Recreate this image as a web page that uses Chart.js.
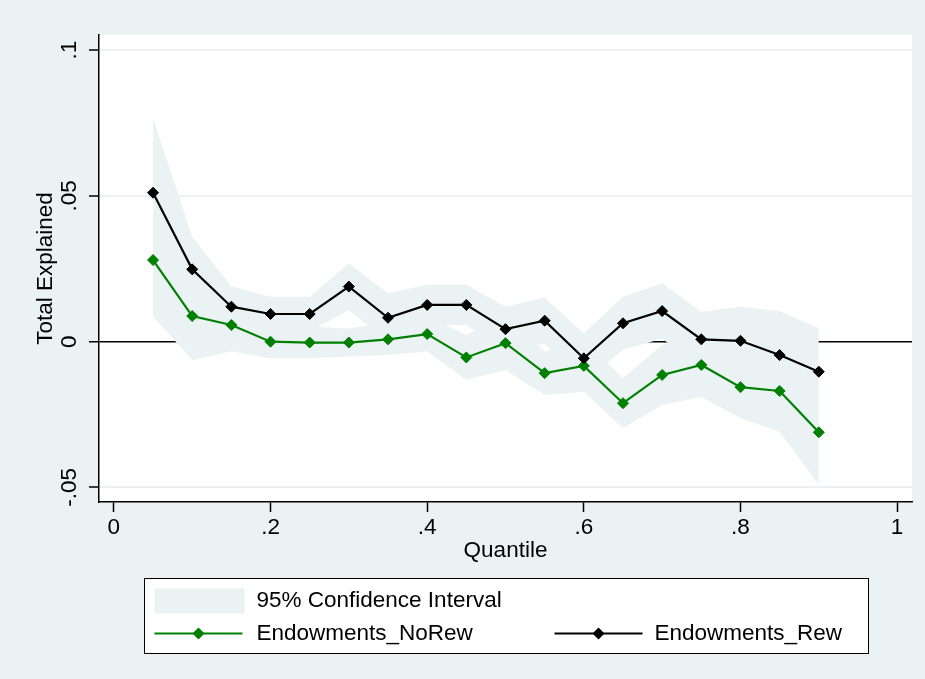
<!DOCTYPE html>
<html>
<head>
<meta charset="utf-8">
<script src="https://cdn.jsdelivr.net/npm/chart.js@4/dist/chart.umd.min.js"></script>
<style>
  html, body { margin: 0; padding: 0; background: #eaf2f3; }
  canvas { display: block; }
</style>
</head>
<body>
<canvas id="figure_quantiles" width="925" height="679"></canvas>
<script>
// quantile decomposition: total explained, with and without reweighting
const quantiles = [0.05, 0.10, 0.15, 0.20, 0.25, 0.30, 0.35, 0.40, 0.45, 0.50, 0.55, 0.60, 0.65, 0.70, 0.75, 0.80, 0.85, 0.90];

const rewEst = [0.0511, 0.0248, 0.0120, 0.0095, 0.0095, 0.0189, 0.0082, 0.0126, 0.0126, 0.0043, 0.0072, -0.0057, 0.0063, 0.0105, 0.0008, 0.0003, -0.0046, -0.0103];
const rewHi = [0.0766, 0.0360, 0.0189, 0.0154, 0.0154, 0.0269, 0.0166, 0.0195, 0.0195, 0.0120, 0.0151, 0.0029, 0.0154, 0.0200, 0.0103, 0.0120, 0.0105, 0.0046];
const rewLo = [0.0256, 0.0136, 0.0051, 0.0036, 0.0036, 0.0109, -0.0002, 0.0057, 0.0057, -0.0034, -0.0007, -0.0143, -0.0028, 0.0010, -0.0087, -0.0114, -0.0197, -0.0252];

const noRewEst = [0.0280, 0.0088, 0.0057, 0.0000, -0.0003, -0.0003, 0.0008, 0.0026, -0.0054, -0.0005, -0.0108, -0.0083, -0.0211, -0.0114, -0.0080, -0.0156, -0.0169, -0.0311];
const noRewHi = [0.0474, 0.0239, 0.0148, 0.0057, 0.0051, 0.0045, 0.0062, 0.0086, 0.0023, 0.0087, -0.0033, 0.0006, -0.0125, -0.0011, 0.0029, -0.0049, -0.0029, -0.0130];
const noRewLo = [0.0086, -0.0063, -0.0034, -0.0057, -0.0057, -0.0051, -0.0046, -0.0034, -0.0131, -0.0097, -0.0183, -0.0172, -0.0297, -0.0217, -0.0189, -0.0263, -0.0309, -0.0492];

const xTicks = [0, 0.2, 0.4, 0.6, 0.8, 1];
const yTicks = [-0.05, 0, 0.05, 0.1];

const bgColour = '#eaf2f3';
const bandColour = '#eaf2f3';
const greenColour = '#008000';
const textFont = { family: "'Liberation Sans', Arial, sans-serif", size: 22.5 };

const pts = values => values.map((v, i) => ({ x: quantiles[i], y: v }));

// ".05" style labels, no leading zero
function stataLabel(v) {
	const s = String(Math.round(v * 1000) / 1000);
	return s.replace(/^(-?)0\./, '$1.');
}

const backdrop = {
	id: 'backdrop',
	beforeDraw(chart) {
		const { ctx, chartArea } = chart;
		ctx.save();
		ctx.fillStyle = bgColour;
		ctx.fillRect(0, 0, chart.width, chart.height);
		ctx.fillStyle = '#fff';
		ctx.fillRect(chartArea.left, chartArea.top, chartArea.right - chartArea.left, chartArea.bottom - chartArea.top);
		ctx.restore();
	}
};

function diamond(ctx, x, y, r) {
	ctx.beginPath();
	ctx.moveTo(x - r, y);
	ctx.lineTo(x, y - r);
	ctx.lineTo(x + r, y);
	ctx.lineTo(x, y + r);
	ctx.closePath();
	ctx.fill();
}

const legendBox = {
	id: 'legendBox',
	afterDraw(chart) {
		const { ctx, chartArea } = chart;
		const w = 724, h = 75;
		const left = Math.round((chartArea.left + chartArea.right) / 2 - w / 2) + 0.5;
		const top = 578.5;
		const ds = chart.data.datasets;
		ctx.save();
		ctx.fillStyle = '#fff';
		ctx.fillRect(left, top, w, h);
		ctx.strokeStyle = '#000';
		ctx.lineWidth = 1;
		ctx.strokeRect(left, top, w, h);

		ctx.font = `${textFont.size}px ${textFont.family}`;
		ctx.textBaseline = 'middle';
		ctx.textAlign = 'left';

		// row 1: confidence band swatch
		ctx.fillStyle = bandColour;
		ctx.fillRect(left + 10, top + 10, 90, 25);
		ctx.fillStyle = '#000';
		ctx.fillText(ds[2].label, left + 112, top + 22);

		// row 2: the two estimate lines
		const rowY = top + 55;
		const keys = [
			{ d: ds[1], x: left + 10, tx: left + 112 },
			{ d: ds[0], x: left + 410, tx: left + 510 }
		];
		keys.forEach(k => {
			ctx.strokeStyle = k.d.borderColor;
			ctx.lineWidth = 2;
			ctx.beginPath();
			ctx.moveTo(k.x, rowY);
			ctx.lineTo(k.x + 88, rowY);
			ctx.stroke();
			ctx.fillStyle = k.d.backgroundColor;
			diamond(ctx, k.x + 44, rowY, 6);
			ctx.fillStyle = '#000';
			ctx.fillText(k.d.label, k.tx, rowY);
		});
		ctx.restore();
	}
};

new Chart(document.getElementById('figure_quantiles'), {
	type: 'line',
	data: {
		datasets: [
			{
				label: 'Endowments_Rew',
				data: pts(rewEst),
				borderColor: '#000',
				backgroundColor: '#000',
				borderWidth: 2.2,
				pointStyle: 'rectRot',
				pointRadius: 5.5,
				pointBorderWidth: 1,
				fill: false,
				order: 0
			},
			{
				label: 'Endowments_NoRew',
				data: pts(noRewEst),
				borderColor: greenColour,
				backgroundColor: greenColour,
				borderWidth: 2.2,
				pointStyle: 'rectRot',
				pointRadius: 5.5,
				pointBorderWidth: 1,
				fill: false,
				order: 1
			},
			{
				label: '95% Confidence Interval',
				data: pts(rewHi),
				borderWidth: 0,
				borderColor: 'transparent',
				backgroundColor: bandColour,
				pointRadius: 0,
				fill: '+1',
				order: 2
			},
			{
				label: 'rew_lo',
				data: pts(rewLo),
				borderWidth: 0,
				borderColor: 'transparent',
				pointRadius: 0,
				fill: false,
				order: 2
			},
			{
				label: 'norew_hi',
				data: pts(noRewHi),
				borderWidth: 0,
				borderColor: 'transparent',
				backgroundColor: bandColour,
				pointRadius: 0,
				fill: '+1',
				order: 3
			},
			{
				label: 'norew_lo',
				data: pts(noRewLo),
				borderWidth: 0,
				borderColor: 'transparent',
				pointRadius: 0,
				fill: false,
				order: 3
			}
		]
	},
	options: {
		responsive: false,
		animation: false,
		events: [],
		layout: { padding: { top: 35, right: 13, left: 0, bottom: 107 } },
		plugins: {
			legend: { display: false },
			tooltip: { enabled: false }
		},
		scales: {
			x: {
				type: 'linear',
				min: -0.019,
				max: 1.019,
				afterBuildTicks: scale => { scale.ticks = xTicks.map(v => ({ value: v })); },
				afterFit: scale => { scale.height = 70; },
				border: { color: '#000', width: 1.5 },
				grid: { drawOnChartArea: false, tickLength: 10, tickColor: '#000', tickWidth: 1.5 },
				ticks: { autoSkip: false, maxRotation: 0, padding: 2, color: '#000', font: textFont, callback: stataLabel },
				title: { display: true, text: 'Quantile', color: '#000', font: textFont, padding: { top: 0, bottom: 8 } }
			},
			y: {
				type: 'linear',
				min: -0.055,
				max: 0.1052,
				afterBuildTicks: scale => { scale.ticks = yTicks.map(v => ({ value: v })); },
				afterFit: scale => { scale.width = 99; },
				border: { color: '#000', width: 1.5 },
				grid: {
					color: ctx => (ctx.tick && ctx.tick.value === 0 ? '#000' : bgColour),
					lineWidth: ctx => (ctx.tick && ctx.tick.value === 0 ? 1.5 : 2),
					tickLength: 10,
					tickColor: '#000',
					tickWidth: 1.5
				},
				ticks: { autoSkip: false, minRotation: 90, maxRotation: 90, crossAlign: 'center', padding: 0, color: '#000', font: textFont, callback: stataLabel },
				title: { display: true, text: 'Total Explained', color: '#000', font: textFont, padding: { top: 32, bottom: 0 } }
			}
		}
	},
	plugins: [backdrop, legendBox]
});
</script>
</body>
</html>
